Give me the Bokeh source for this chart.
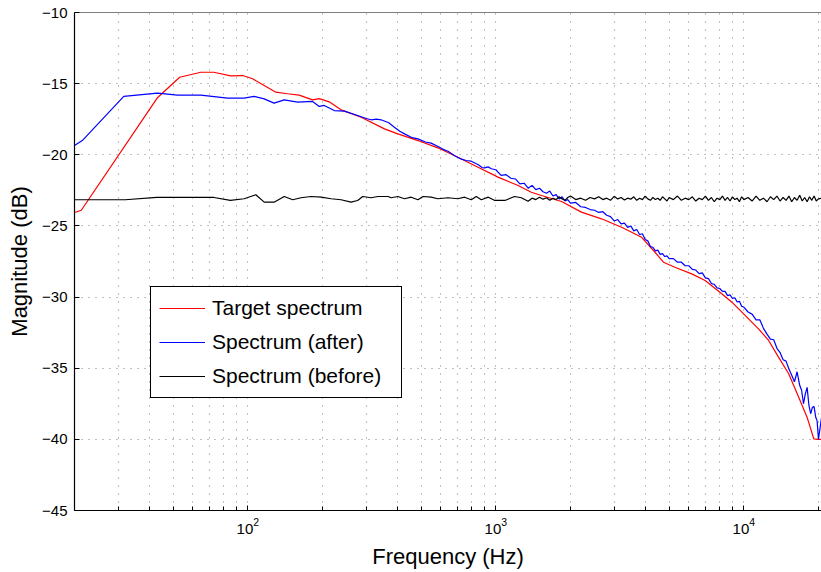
from bokeh.plotting import figure
from bokeh.models import Range1d, FixedTicker, Span
from bokeh.embed import file_html
from bokeh.resources import INLINE

# ---------------- data ----------------
freq_target = [20, 21.3, 43.3, 53.1, 64.6, 72.9, 85.3, 95.3, 104.5, 116.4, 129.7, 144.5,
               161.1, 182.4, 194.1, 212.8, 237.7, 286.4, 355.6, 402.7, 485.3, 583.4, 703.1,
               847.2, 1021, 1230, 1390, 1528, 1841, 2213, 2667, 3214, 3873, 4385, 4742, 5272,
               6166, 6982, 8147, 8954, 10120, 11460, 12590, 13800, 15170, 16630, 17990,
               19140, 20000, 20600]
target_db = [-24.06, -23.9, -15.97, -14.55, -14.2, -14.2, -14.45, -14.43, -14.66, -15.13,
             -15.6, -15.71, -15.81, -16.14, -16.05, -16.28, -16.84, -17.36, -18.18, -18.53,
             -19.0, -19.51, -20.17, -20.87, -21.57, -22.16, -22.63, -22.86, -23.28, -24.03,
             -24.5, -25.09, -25.8, -26.85, -27.55, -27.9, -28.37, -28.83, -29.77, -30.36,
             -31.29, -32.23, -33.05, -34.22, -35.39, -37.03, -38.44, -39.96, -40.0, -40.0]

freq_after = [20, 21.5, 31.6, 43.2, 52, 64.6, 82.8, 96.6, 106, 116.4, 127.6, 140.2, 158.8,
              182.4, 194.1, 203.2, 223.1, 245, 277.3, 300, 314, 330, 344.5, 370, 389.9, 410,
              428.3, 460, 485.3, 520, 548.5, 590, 610, 641.2, 680, 726.1, 760, 796.2, 850,
              880, 901.6, 930, 959.5,
              1000, 1050, 1100, 1150, 1200, 1250, 1300, 1350, 1400, 1450, 1500, 1550, 1600,
              1650, 1700, 1750, 1800, 1850, 1900, 1950, 2000,
              2100, 2200, 2300, 2400, 2500, 2600, 2700, 2800, 2900, 3000, 3100, 3200, 3300,
              3400, 3500, 3600, 3700, 3800, 3900, 4000, 4100, 4200, 4300, 4400, 4500, 4600,
              4700, 4800, 4900, 5000,
              5200, 5400, 5600, 5800, 6000, 6200, 6400, 6600, 6800, 7000, 7200, 7400, 7600,
              7800, 8000, 8200, 8400, 8600, 8800, 9000, 9200, 9400, 9600, 9800, 10000,
              10400, 10800, 11200, 11600, 12000, 12400, 12800, 13200, 13600, 14000, 14400,
              14800, 15200, 15600, 16000, 16400, 16800, 17100, 17400, 17700, 18000, 18300,
              18600, 18900, 19200, 19500, 19750, 20000, 20600]
after_db = [-19.35, -19.0, -15.9, -15.67, -15.81, -15.81, -16.02, -16.02, -15.9, -16.07,
            -16.37, -16.14, -16.3, -16.25, -16.6, -16.53, -16.89, -16.93, -17.24, -17.45,
            -17.54, -17.5, -17.54, -17.75, -18.06, -18.35, -18.53, -18.8, -18.88, -19.1,
            -19.18, -19.45, -19.6, -19.75, -20.05, -20.31, -20.4, -20.45, -20.7, -20.9,
            -20.92, -20.85, -20.98,
            -21.05, -21.45, -21.4, -21.65, -21.7, -22.05, -22.0, -22.35, -22.15, -22.45,
            -22.35, -22.6, -22.7, -22.55, -22.9, -22.8, -23.1, -22.95, -23.25, -23.15,
            -23.4,
            -23.35, -23.65, -23.7, -23.85, -23.9, -24.05, -24.0, -24.25, -24.35, -24.65,
            -24.55, -24.85, -24.8, -25.1, -25.0, -25.35, -25.25, -25.6, -25.55, -25.95,
            -26.05, -26.45, -26.5, -26.75, -26.7, -27.0, -26.95, -27.15, -27.1, -27.3,
            -27.3, -27.55, -27.55, -27.8, -27.8, -28.05, -28.1, -28.35, -28.3, -28.65,
            -28.7, -29.05, -29.1, -29.35, -29.4, -29.6, -29.6, -29.9, -29.85, -30.1,
            -30.05, -30.35, -30.3, -30.65, -30.7,
            -31.05, -31.2, -31.6, -31.6, -32.2, -32.6, -32.95, -33.0, -33.6, -33.9,
            -34.4, -34.5, -35.05, -35.5, -35.95, -35.25, -36.2, -36.55, -37.5, -36.8,
            -36.35, -37.6, -38.2, -37.75, -37.7, -38.45, -38.7, -40.0, -38.4]

freq_before = [20, 32, 43, 73, 85, 96.6, 107.7, 116.4, 127.6, 140.2, 151.7, 163.8, 179.8,
               197.7, 216.6, 237.7, 260.6, 277.3, 290.6, 314, 334.6, 367.5, 378.5, 402.7,
               428.3, 455.5, 485.3, 508.8, 548.5, 583.4, 641, 703, 748, 796, 834, 874, 932,
               991, 1088, 1191, 1267, 1349,
               1400, 1450, 1500, 1550, 1600, 1650, 1700, 1750, 1800, 1850, 1900, 1950, 2000,
               2100, 2200, 2300, 2400, 2500, 2600, 2700, 2800, 2900, 3000, 3100, 3200, 3300,
               3400, 3500, 3600, 3700, 3800, 3900, 4000, 4100, 4200, 4300, 4400, 4500, 4600,
               4700, 4800, 4900, 5000,
               5200, 5400, 5600, 5800, 6000, 6200, 6400, 6600, 6800, 7000, 7200, 7400, 7600,
               7800, 8000, 8200, 8400, 8600, 8800, 9000, 9200, 9400, 9600, 9800, 10000,
               10400, 10800, 11200, 11600, 12000, 12400, 12800, 13200, 13600, 14000, 14400,
               14800, 15200, 15600, 16000, 16400, 16800, 17200, 17600, 18000, 18400, 18800,
               19200, 19600, 20000, 20600]
before_db = [-23.16, -23.16, -23.0, -23.0, -23.21, -23.09, -22.81, -23.33, -23.33, -22.93,
             -23.16, -23.02, -22.93, -22.98, -23.09, -23.16, -23.33, -23.21, -22.93, -23.02,
             -22.93, -22.93, -23.02, -22.93, -23.09, -22.98, -23.16, -22.93, -22.98, -23.09,
             -23.02, -23.09, -22.98, -23.16, -22.93, -23.16, -22.98, -23.21, -23.21, -22.93,
             -23.02, -23.26,
             -23.05, -23.15, -22.98, -23.12, -23.02, -23.2, -23.05, -23.15, -22.95, -23.1,
             -23.2, -23.0, -22.9,
             -23.15, -23.05, -23.2, -23.0, -23.1, -22.95, -23.15, -23.05, -23.2, -22.92,
             -23.1, -23.0, -23.18, -23.05, -23.12, -22.95, -23.2, -23.05, -23.15, -22.9,
             -23.1, -23.2, -23.0, -23.15, -23.05, -23.2, -22.95, -23.1, -23.25, -23.0,
             -23.15, -22.9, -23.2, -23.05, -23.15, -22.95, -23.25, -23.05, -23.15, -22.9,
             -23.2, -23.0, -23.3, -23.05, -23.15, -22.9, -23.2, -23.0, -23.25, -22.95,
             -23.15, -23.05, -23.3, -22.95, -23.15,
             -23.0, -23.25, -22.9, -23.2, -23.05, -23.3, -22.95, -23.15, -22.9, -23.25,
             -23.0, -23.2, -22.9, -23.3, -23.0, -23.2, -22.85, -23.25, -23.0, -23.3,
             -22.95, -23.2, -22.9, -23.25, -23.1, -23.05]

x_major_ticks = [100, 1000, 10000]
x_minor_ticks = [20, 30, 40, 50, 60, 70, 80, 90, 200, 300, 400, 500, 600, 700, 800, 900,
                 2000, 3000, 4000, 5000, 6000, 7000, 8000, 9000, 20000]
y_ticks = [-45, -40, -35, -30, -25, -20, -15, -10]
y_tick_labels = ["\u221245", "\u221240", "\u221235", "\u221230", "\u221225", "\u221220",
                 "\u221215", "\u221210"]

FONT = "Liberation Sans"

p = figure(width=821, height=572, x_axis_type="log",
           x_range=Range1d(20, 20570), y_range=Range1d(-45, -10),
           output_backend="svg", toolbar_location=None,
           min_border_left=74, min_border_right=0, min_border_top=12, min_border_bottom=62)
p.outline_line_color = None
p.background_fill_color = "white"
p.border_fill_color = "white"

xt = FixedTicker(ticks=x_major_ticks, minor_ticks=x_minor_ticks)
p.xaxis.ticker = xt
p.yaxis.ticker = FixedTicker(ticks=y_ticks)
p.yaxis.major_label_overrides = {t: s for t, s in zip(y_ticks, y_tick_labels)}

for ax in (p.xaxis, p.yaxis):
    ax.axis_line_color = "black"
    ax.axis_line_width = 1.2
    ax.major_tick_in = 5
    ax.major_tick_out = 0
    ax.minor_tick_in = 4
    ax.minor_tick_out = 0
    ax.major_tick_line_color = "black"
    ax.minor_tick_line_color = "black"
    ax.major_label_text_font = FONT
    ax.major_label_text_font_size = "15px"
    ax.major_label_text_color = "black"
    ax.axis_label_text_font = FONT
    ax.axis_label_text_font_size = "22px"
    ax.axis_label_text_font_style = "normal"
    ax.axis_label_text_color = "black"

p.xaxis.axis_label = "Frequency (Hz)"
p.yaxis.axis_label = "Magnitude (dB)"
p.xaxis.major_label_standoff = 7
p.xaxis.axis_label_standoff = 7
p.yaxis.major_label_standoff = 7
p.yaxis.axis_label_standoff = 7

p.xgrid.grid_line_color = "#808080"
p.xgrid.grid_line_dash = "1 7"
p.xgrid.minor_grid_line_color = "#808080"
p.xgrid.minor_grid_line_dash = "1 7"
p.ygrid.grid_line_color = "#808080"
p.ygrid.grid_line_dash = "1 6"

# top border of the box
p.add_layout(Span(location=y_ticks[-1], dimension="width", line_color="black", line_width=1.2))

p.line(freq_target, target_db, line_color="#ff0000", line_width=1.2, legend_label="Target spectrum")
p.line(freq_after, after_db, line_color="#0000ff", line_width=1.2, legend_label="Spectrum (after)")
p.line(freq_before, before_db, line_color="#000000", line_width=1.2, legend_label="Spectrum (before)")

lg = p.legend[0]
lg.location = (76, 112)
lg.border_line_color = "black"
lg.border_line_alpha = 1.0
lg.border_line_width = 1.3
lg.background_fill_color = "white"
lg.background_fill_alpha = 1
lg.label_text_font = FONT
lg.label_text_font_size = "21px"
lg.label_text_color = "black"
lg.glyph_width = 46
lg.glyph_height = 26
lg.label_height = 26
lg.label_width = 181
lg.label_standoff = 7
lg.spacing = 8
lg.padding = 8
lg.margin = 0

open("out.html", "w").write(file_html(p, INLINE))
